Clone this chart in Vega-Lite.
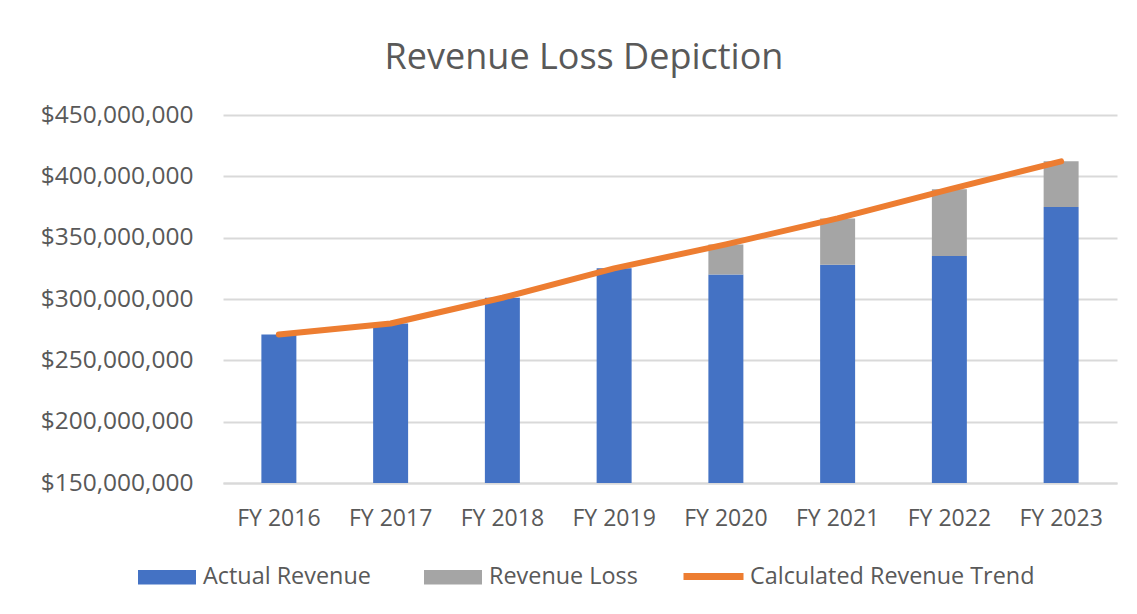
{
  "$schema": "https://vega.github.io/schema/vega-lite/v6.json",
  "width": 894,
  "height": 368,
  "autosize": {"type": "none"},
  "padding": {"left": 223, "top": 115, "right": 20, "bottom": 131},
  "background": "white",
  "title": {
    "text": "Revenue Loss Depiction",
    "anchor": "middle",
    "frame": "group",
    "dx": -86,
    "offset": 25,
    "font": "Open Sans",
    "fontSize": 36,
    "fontWeight": "normal",
    "color": "#595959"
  },
  "datasets": {
    "bars": [
      {"year": "FY 2016", "series": "Actual Revenue", "value": 271000000},
      {"year": "FY 2017", "series": "Actual Revenue", "value": 280000000},
      {"year": "FY 2018", "series": "Actual Revenue", "value": 301000000},
      {"year": "FY 2019", "series": "Actual Revenue", "value": 325000000},
      {"year": "FY 2020", "series": "Actual Revenue", "value": 320000000},
      {"year": "FY 2021", "series": "Actual Revenue", "value": 328000000},
      {"year": "FY 2022", "series": "Actual Revenue", "value": 335000000},
      {"year": "FY 2023", "series": "Actual Revenue", "value": 375000000},
      {"year": "FY 2016", "series": "Revenue Loss", "value": 0},
      {"year": "FY 2017", "series": "Revenue Loss", "value": 0},
      {"year": "FY 2018", "series": "Revenue Loss", "value": 0},
      {"year": "FY 2019", "series": "Revenue Loss", "value": 0},
      {"year": "FY 2020", "series": "Revenue Loss", "value": 24500000},
      {"year": "FY 2021", "series": "Revenue Loss", "value": 37700000},
      {"year": "FY 2022", "series": "Revenue Loss", "value": 54400000},
      {"year": "FY 2023", "series": "Revenue Loss", "value": 37200000}
    ],
    "trend": [
      {"year": "FY 2016", "trend": 271000000},
      {"year": "FY 2017", "trend": 280000000},
      {"year": "FY 2018", "trend": 301000000},
      {"year": "FY 2019", "trend": 325000000},
      {"year": "FY 2020", "trend": 344500000},
      {"year": "FY 2021", "trend": 365700000},
      {"year": "FY 2022", "trend": 389400000},
      {"year": "FY 2023", "trend": 412200000}
    ]
  },
  "layer": [
    {
      "data": {"name": "bars"},
      "mark": {"type": "bar"},
      "encoding": {
        "x": {
          "field": "year",
          "type": "nominal",
          "sort": null,
          "scale": {"paddingInner": 0.687, "paddingOuter": 0.3435},
          "axis": {
            "title": null,
            "labelAngle": 0,
            "labelFont": "Open Sans",
            "labelFontSize": 23,
            "labelColor": "#595959",
            "labelPadding": 24,
            "ticks": false,
            "domain": true,
            "domainColor": "#d9d9d9",
            "domainWidth": 2,
            "grid": false
          }
        },
        "y": {
          "field": "value",
          "type": "quantitative",
          "stack": "zero",
          "scale": {"domain": [150000000, 450000000], "clamp": true, "nice": false, "zero": false},
          "axis": {
            "title": null,
            "values": [150000000, 200000000, 250000000, 300000000, 350000000, 400000000, 450000000],
            "format": "$,.0f",
            "labelFont": "Open Sans",
            "labelFontSize": 24.5,
            "labelColor": "#595959",
            "labelPadding": 30,
            "ticks": false,
            "domain": false,
            "grid": true,
            "gridColor": "#d9d9d9",
            "gridWidth": 2
          }
        },
        "fill": {
          "field": "series",
          "type": "nominal",
          "scale": {"domain": ["Actual Revenue", "Revenue Loss"], "range": ["#4472C4", "#A5A5A5"]},
          "legend": {
            "title": null,
            "orient": "none",
            "legendX": -85,
            "legendY": 433,
            "direction": "horizontal",
            "columns": 2,
            "columnPadding": 53,
            "symbolType": "M-1,-0.25H1V0.25H-1Z",
            "symbolSize": 3364,
            "symbolStrokeWidth": 0,
            "labelFont": "Open Sans",
            "labelFontSize": 23.4,
            "labelColor": "#595959",
            "labelOffset": 7,
            "labelLimit": 0
          }
        },
        "order": {"field": "series", "sort": "ascending"}
      }
    },
    {
      "data": {"name": "trend"},
      "mark": {"type": "line", "strokeWidth": 6, "strokeCap": "round", "strokeJoin": "round"},
      "encoding": {
        "x": {"field": "year", "type": "nominal", "sort": null},
        "y": {"field": "trend", "type": "quantitative"},
        "stroke": {
          "datum": "Calculated Revenue Trend",
          "scale": {"domain": ["Calculated Revenue Trend"], "range": ["#ED7D31"]},
          "legend": {
            "title": null,
            "orient": "none",
            "legendX": 457,
            "legendY": 428,
            "symbolType": "stroke",
            "symbolSize": 3600,
            "symbolStrokeWidth": 7,
            "labelFont": "Open Sans",
            "labelFontSize": 23.4,
            "labelColor": "#595959",
            "labelOffset": 3,
            "labelLimit": 0
          }
        }
      }
    }
  ],
  "config": {
    "view": {"stroke": null}
  }
}
